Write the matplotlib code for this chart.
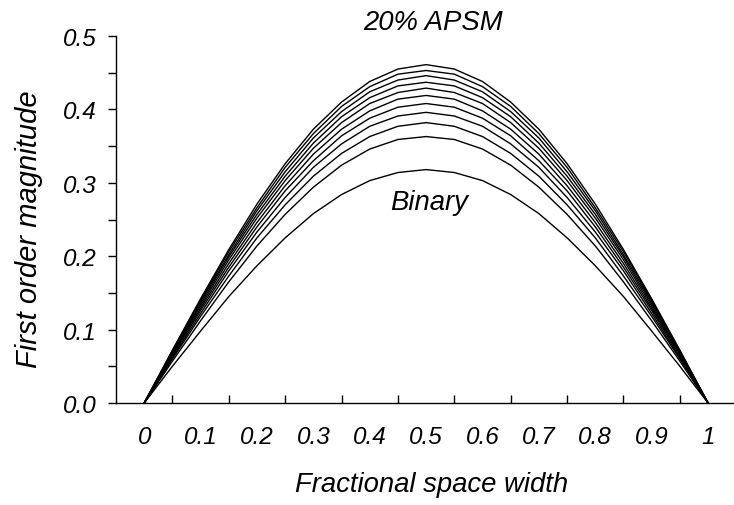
import matplotlib
matplotlib.use("Agg")
import matplotlib.pyplot as plt
from matplotlib.ticker import FixedLocator, NullFormatter

plt.rcParams['font.family'] = ['Liberation Sans', 'DejaVu Sans']
plt.rcParams['font.style'] = 'italic'

space_width = [0, 0.05, 0.1, 0.15, 0.2, 0.25, 0.3, 0.35, 0.4, 0.45, 0.5,
               0.55, 0.6, 0.65, 0.7, 0.75, 0.8, 0.85, 0.9, 0.95, 1]
x_labels = ['0', '0.1', '0.2', '0.3', '0.4', '0.5', '0.6', '0.7', '0.8', '0.9', '1']

# first order magnitude, binary mask then attenuated PSM at 2% steps up to 20%
binary = [0, .050, .098, .145, .187, .225, .258, .284, .303, .314, .318,
          .314, .303, .284, .258, .225, .187, .145, .098, .050, 0]
apsm_02 = [0, .057, .112, .165, .214, .257, .294, .324, .346, .359, .363,
           .359, .346, .324, .294, .257, .214, .165, .112, .057, 0]
apsm_04 = [0, .060, .118, .173, .225, .270, .309, .340, .363, .377, .382,
           .377, .363, .340, .309, .270, .225, .173, .118, .060, 0]
apsm_06 = [0, .062, .122, .180, .233, .280, .321, .353, .377, .391, .396,
           .391, .377, .353, .321, .280, .233, .180, .122, .062, 0]
apsm_08 = [0, .064, .126, .185, .240, .289, .330, .364, .388, .403, .408,
           .403, .388, .364, .330, .289, .240, .185, .126, .064, 0]
apsm_10 = [0, .066, .129, .190, .246, .296, .339, .373, .398, .414, .419,
           .414, .398, .373, .339, .296, .246, .190, .129, .066, 0]
apsm_12 = [0, .067, .132, .195, .252, .303, .347, .382, .408, .423, .429,
           .423, .408, .382, .347, .303, .252, .195, .132, .067, 0]
apsm_14 = [0, .068, .135, .199, .257, .309, .354, .390, .416, .432, .437,
           .432, .416, .390, .354, .309, .257, .199, .135, .068, 0]
apsm_16 = [0, .070, .138, .202, .262, .315, .361, .397, .424, .440, .446,
           .440, .424, .397, .361, .315, .262, .202, .138, .070, 0]
apsm_18 = [0, .071, .140, .206, .266, .321, .367, .404, .431, .448, .453,
           .448, .431, .404, .367, .321, .266, .206, .140, .071, 0]
apsm_20 = [0, .072, .142, .209, .271, .326, .373, .410, .438, .455, .461,
           .455, .438, .410, .373, .326, .271, .209, .142, .072, 0]

curves = [binary, apsm_02, apsm_04, apsm_06, apsm_08, apsm_10,
          apsm_12, apsm_14, apsm_16, apsm_18, apsm_20]

fig = plt.figure(figsize=(7.34, 5.06), dpi=100)
ax = fig.add_axes([116 / 734, 102 / 506, 618 / 734, 367 / 506])

for c in curves:
    ax.plot(space_width, c, color='black', lw=1.0)

ax.set_xlim(-0.05, 1.046)
ax.set_ylim(0, 0.5)

for s in ['top', 'right']:
    ax.spines[s].set_visible(False)
for s in ['left', 'bottom']:
    ax.spines[s].set_linewidth(1.0)

# x: labels sit on the categories, tick marks between them
ax.set_xticks([i / 10 for i in range(11)])
ax.set_xticklabels(x_labels)
ax.xaxis.set_minor_locator(FixedLocator([0.05 + i / 10 for i in range(10)]))
ax.tick_params(axis='x', which='major', length=0, pad=16, labelsize=17.5)
ax.tick_params(axis='x', which='minor', direction='in', length=6, width=1.0)

ax.set_yticks([0, 0.1, 0.2, 0.3, 0.4, 0.5])
ax.set_yticklabels(['0.0', '0.1', '0.2', '0.3', '0.4', '0.5'])
ax.yaxis.set_minor_locator(FixedLocator([0.05, 0.15, 0.25, 0.35, 0.45]))
ax.yaxis.set_minor_formatter(NullFormatter())
ax.tick_params(axis='y', which='both', direction='out', length=6, width=1.0,
               pad=8, labelsize=17.5)

ax.set_xlabel('Fractional space width', fontsize=19.8)
ax.xaxis.set_label_coords((432 - 116) / 618, -(472 - 404) / 367)
ax.set_ylabel('First order magnitude', fontsize=21)
ax.yaxis.set_label_coords(-(116 - 43) / 618, (404 - 229) / 367)

ax.text(0.512, 0.502, '20% APSM', fontsize=19.8, ha='center', va='bottom')
ax.text(0.505, 0.274, 'Binary', fontsize=19.8, ha='center', va='center')

fig.savefig('out.png', dpi=100)
